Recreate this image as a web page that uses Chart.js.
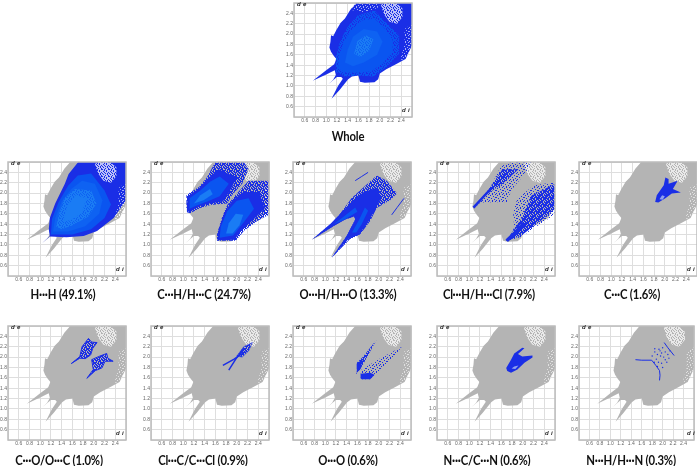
<!DOCTYPE html>
<html>
<head>
<title>Fingerprint plots</title>
<script src="https://cdn.jsdelivr.net/npm/chart.js"></script>
<style>
  html, body { margin: 0; background: #fff; overflow: hidden; }
  body { position: relative; width: 697px; height: 466px; }
  canvas { position: absolute; filter: blur(.45px); }
  .cap { position: absolute; width: 160px; text-align: center; font: bold 13px Lato, sans-serif; letter-spacing: -.2px; color: #111; white-space: nowrap; transform: scaleX(.87); }
  .ax { position: absolute; font: italic bold 6px "Liberation Sans", sans-serif; color: #222; white-space: nowrap; letter-spacing: .3px; }
</style>
</head>
<body>
<script>
// all outlines are [d_i, d_e] pairs
const tickLabels = ['0.6','0.8','1.0','1.2','1.4','1.6','1.8','2.0','2.2','2.4'];
const captions = ['Whole','H···H (49.1%)','C···H/H···C (24.7%)','O···H/H···O (13.3%)','Cl···H/H···Cl (7.9%)','C···C (1.6%)',
  'C···O/O···C (1.0%)','Cl···C/C···Cl (0.9%)','O···O (0.6%)','N···C/C···N (0.6%)','N···H/H···N (0.3%)'];

const fullShape = [[0.75,1.10],[1.0,1.30],[1.15,1.42],[1.19,1.52],[1.14,1.58],[1.09,1.66],[1.06,1.74],[1.08,1.85],[1.09,1.98],[1.13,1.96],[1.19,2.08],[1.27,2.22],[1.35,2.30],[1.45,2.47],[1.56,2.60],[2.60,2.60],[2.60,1.78],[2.48,1.52],[2.30,1.42],[2.12,1.32],[2.0,1.24],[1.97,1.13],[1.90,1.07],[1.72,1.06],[1.63,1.08],[1.60,1.20],[1.48,1.18],[1.41,1.13],[1.25,0.92],[1.10,0.75],[1.22,1.0],[1.31,1.14],[1.28,1.17],[1.20,1.17],[1.04,1.03],[1.13,1.12],[1.18,1.21],[1.16,1.30],[1.0,1.22],[0.75,1.10]];
const topHole = [[2.02,2.56],[2.08,2.38],[2.18,2.24],[2.32,2.20],[2.43,2.34],[2.42,2.50],[2.30,2.60],[2.08,2.60]];
const edgeRight = [[2.46,2.10],[2.60,2.20],[2.60,1.78],[2.48,1.52],[2.38,1.50],[2.46,1.80]];
const edgeTop = [[1.45,2.47],[1.56,2.60],[2.02,2.60],[1.95,2.50],[1.70,2.42]];

const wholeHalo = [[1.17,1.28],[1.18,1.56],[1.26,1.86],[1.40,2.14],[1.58,2.36],[1.90,2.46],[2.10,2.24],[2.36,1.98],[2.36,1.62],[2.12,1.36],[1.88,1.18],[1.60,1.20],[1.34,1.18]];
const wholeDense = [[1.22,1.34],[1.24,1.58],[1.33,1.85],[1.47,2.08],[1.66,2.26],[1.90,2.30],[2.08,2.12],[2.24,1.88],[2.24,1.66],[2.06,1.44],[1.84,1.28],[1.58,1.26],[1.36,1.26]];
const wholeCore = [[1.35,1.45],[1.40,1.70],[1.50,1.95],[1.70,2.10],[1.95,2.05],[2.05,1.85],[1.95,1.60],[1.70,1.45],[1.50,1.38]];
const wholeHeart = [[1.52,1.62],[1.58,1.86],[1.74,1.98],[1.88,1.90],[1.80,1.68],[1.64,1.56]];

const hhEdge = [[1.03,1.03],[1.18,1.17],[1.16,1.30],[1.18,1.52],[1.28,1.80],[1.46,2.18],[1.53,2.37],[1.71,2.60],[2.60,2.60],[2.60,1.86],[2.37,1.52],[2.06,1.27],[1.81,1.17],[1.49,1.15],[1.18,1.16],[1.03,1.03]];
const hhDense = [[1.20,1.20],[1.22,1.50],[1.34,1.82],[1.52,2.14],[1.70,2.34],[1.95,2.38],[2.2,2.05],[2.32,1.78],[2.20,1.52],[1.95,1.30],[1.6,1.20]];
const hhMid = [[1.24,1.26],[1.28,1.52],[1.40,1.84],[1.58,2.08],[1.78,2.24],[2.02,2.18],[2.16,1.86],[2.10,1.60],[1.84,1.36],[1.52,1.26]];
const hhCore = [[1.30,1.35],[1.35,1.60],[1.45,1.90],[1.65,2.08],[1.95,2.05],[2.05,1.80],[1.90,1.55],[1.60,1.38],[1.40,1.30]];
const hhHeart = [[1.44,1.46],[1.50,1.74],[1.66,1.96],[1.86,1.90],[1.78,1.62],[1.58,1.48]];

const chUpper = [[1.07,1.71],[1.06,1.96],[1.13,2.01],[1.30,2.12],[1.44,2.30],[1.60,2.60],[2.13,2.60],[2.22,2.46],[2.10,2.18],[1.91,1.96],[1.82,1.80],[1.51,1.77],[1.32,1.71],[1.13,1.61],[1.07,1.63]];
const chLower = [[1.63,1.08],[1.63,1.20],[1.72,1.52],[1.82,1.77],[2.0,1.99],[2.22,2.24],[2.60,2.24],[2.60,1.58],[2.38,1.46],[2.13,1.27],[1.98,1.08]];
const chUpperSolid = [[1.07,1.66],[1.08,1.94],[1.28,2.08],[1.46,2.28],[1.66,2.46],[2.0,2.30],[1.86,2.02],[1.74,1.84],[1.48,1.80],[1.28,1.74],[1.12,1.63]];
const chLowerSolid = [[1.64,1.09],[1.66,1.30],[1.76,1.60],[1.90,1.84],[2.12,2.02],[2.42,2.02],[2.52,1.70],[2.30,1.48],[2.08,1.28],[1.96,1.10]];
const chUpperDense = [[1.12,1.70],[1.12,1.90],[1.32,2.05],[1.50,2.22],[1.68,2.32],[1.85,2.18],[1.68,1.94],[1.45,1.84],[1.25,1.76]];
const chLowerDense = [[1.68,1.14],[1.70,1.35],[1.82,1.65],[2.0,1.85],[2.22,1.90],[2.32,1.70],[2.14,1.45],[1.93,1.18]];
const chUpperCore = [[1.20,1.80],[1.32,1.96],[1.50,2.08],[1.55,1.98],[1.38,1.86]];
const chLowerCore = [[1.80,1.22],[1.85,1.42],[1.98,1.60],[2.12,1.58],[2.05,1.38],[1.92,1.22]];

const ohBody = [[0.75,1.10],[1.09,1.39],[1.24,1.55],[1.49,1.90],[1.68,2.08],[1.96,2.34],[2.15,2.24],[2.34,1.99],[2.21,1.86],[1.96,1.71],[1.84,1.46],[1.65,1.20],[1.46,1.11],[1.12,0.75],[1.40,1.17],[1.56,1.49],[1.54,1.55],[1.37,1.49],[1.15,1.36],[0.75,1.10]];
const ohDense = [[0.75,1.10],[1.10,1.41],[1.30,1.62],[1.52,1.86],[1.72,2.02],[1.95,2.10],[2.05,1.92],[1.92,1.66],[1.78,1.40],[1.62,1.20],[1.44,1.12],[1.12,0.75],[1.40,1.17],[1.56,1.49],[1.54,1.55],[1.37,1.49],[1.15,1.36]];
const ohCoreA = [[1.16,1.40],[1.36,1.56],[1.56,1.72],[1.60,1.64],[1.38,1.50]];
const ohCoreB = [[1.50,1.24],[1.64,1.50],[1.74,1.72],[1.80,1.66],[1.68,1.40],[1.58,1.24]];
const ohStreakA = [[1.56,2.24],[1.68,2.32],[1.80,2.40]];
const ohStreakB = [[2.24,1.58],[2.34,1.72],[2.47,1.90]];

const clhUpper = [[1.06,1.68],[1.40,2.12],[1.59,2.52],[1.78,2.60],[2.15,2.60],[2.06,2.40],[1.78,2.05],[1.71,1.83],[1.21,1.82],[1.06,1.68]];
const clhLower = [[1.68,1.07],[1.84,1.33],[1.82,1.64],[1.90,1.90],[2.21,2.15],[2.60,2.21],[2.60,1.58],[2.34,1.42],[1.96,1.15],[1.68,1.07]];
const clhUpperDense = [[1.06,1.68],[1.40,2.12],[1.62,2.46],[1.92,2.46],[1.60,2.16],[1.36,2.00],[1.18,1.82]];
const clhLowerDense = [[1.68,1.07],[1.86,1.33],[2.0,1.55],[2.16,1.95],[2.60,2.18],[2.60,1.70],[2.32,1.45],[1.96,1.17]];
const clhStrip = [[1.08,1.72],[1.24,1.90],[1.42,2.10]];
const clhTip = [[1.70,1.08],[1.86,1.24],[2.02,1.42]];

const ccShape = [[1.82,1.83],[1.85,1.96],[1.98,2.15],[2.01,2.30],[2.07,2.27],[2.07,2.18],[2.24,2.24],[2.15,2.08],[2.30,2.01],[2.13,1.99],[2.01,1.90],[1.88,1.82],[1.82,1.83]];
const ccHole = [[1.90,1.88],[1.95,1.96],[2.0,1.94],[1.96,1.87]];

const coLobeA = [[1.58,1.875],[1.74,2.01],[1.78,2.20],[1.90,2.36],[1.96,2.29],[2.06,2.28],[1.98,2.17],[1.94,2.04],[1.84,1.97],[1.74,1.98],[1.58,1.875]];
const coLobeB = [[1.87,1.59],[1.99,1.76],[1.96,1.95],[2.09,2.01],[2.24,2.07],[2.26,1.98],[2.36,1.92],[2.21,1.92],[2.15,1.79],[2.03,1.74],[1.87,1.59]];

const clcLineA = [[1.74,1.84],[1.95,1.96],[2.16,2.11]];
const clcLineB = [[1.85,1.75],[1.98,1.96],[2.13,2.17]];
const clcTop = [[2.0,2.02],[2.13,2.20],[2.29,2.28],[2.22,2.12],[2.10,2.00],[2.0,2.02]];

const ooLobeA = [[1.575,1.68],[1.59,1.89],[1.71,2.01],[1.96,2.34],[1.74,1.92],[1.65,1.76],[1.575,1.68]];
const ooLobeB = [[1.65,1.61],[1.68,1.76],[2.03,1.98],[2.43,2.20],[2.21,1.92],[1.93,1.67],[1.84,1.57],[1.68,1.57],[1.65,1.61]];
const ooDenseA = [[1.575,1.68],[1.59,1.88],[1.70,1.96],[1.66,1.78]];
const ooDenseB = [[1.65,1.60],[1.66,1.68],[1.84,1.70],[1.92,1.66],[1.84,1.57],[1.68,1.57]];

const ncShape = [[1.69,1.79],[1.78,1.95],[1.84,2.07],[1.99,2.18],[2.03,2.17],[1.91,2.06],[1.99,2.01],[2.18,2.03],[2.18,1.99],[2.03,1.89],[1.90,1.76],[1.78,1.70],[1.71,1.73],[1.69,1.79]];
const ncHole = [[1.79,1.78],[1.84,1.82],[1.92,1.84],[1.86,1.77]];

const nhLineA = [[1.48,1.95],[1.60,1.94],[1.79,1.94],[1.87,1.84],[1.94,1.74],[1.95,1.65],[1.94,1.55]];
const nhLineB = [[2.03,2.28],[2.10,2.18],[2.22,2.03]];
const nhDots = [[1.80,2.02],[1.85,2.10],[1.90,2.05],[1.88,1.96],[1.95,2.12],[2.0,2.18],[2.05,2.10],[2.02,2.0],[1.96,2.02],[1.92,1.90],[1.98,1.88],[2.05,1.95],[2.10,2.05],[2.0,1.80],[1.85,2.16],[1.93,2.15],[2.12,1.98],[2.08,1.90],[1.90,1.82],[1.98,2.08],[1.84,1.90],[2.14,2.12]];

const BLUE = '#1a2ee6', MID = '#0a55f0', SKY = '#0e62f2', CORE = '#1a7cf4', GRAY = '#b4b4b4';

// speckle tiles for the sparse parts of the plots
const tileSparse = ['#..#...', '...#..#', '.#.....', '....#..', '#.....#', '..#....', '.....#.'];
const tileDense = ['##.###.', '.##.#.#', '#.###.#', '###.##.', '.#.###.', '##.#.##', '#.##.##'];
function speckle(tile, color) {
  const c = document.createElement('canvas');
  c.width = 7; c.height = 7;
  const g = c.getContext('2d');
  g.fillStyle = color;
  tile.forEach((row, y) => [...row].forEach((ch, x) => { if (ch === '#') g.fillRect(x, y, 1, 1); }));
  return g.createPattern(c, 'repeat');
}
const blueSparse = speckle(tileSparse, BLUE), blueDense = speckle(tileDense, BLUE);
const midDense = speckle(tileDense, MID), coreDense = speckle(tileDense, CORE);
const whiteDense = speckle(tileDense, 'rgba(255,255,255,.7)'), whiteSparse = speckle(tileSparse, 'rgba(255,255,255,.6)');

const base = [[fullShape, GRAY], [topHole, whiteDense], [edgeRight, whiteSparse]];
const panels = [
  { left: 294, top: 0, capX: 348, capY: 128, layers: [[fullShape, BLUE], [wholeHalo, midDense], [wholeDense, MID], [wholeCore, SKY], [wholeHeart, coreDense], [topHole, whiteDense], [edgeRight, whiteSparse], [edgeTop, whiteSparse]] },
  { left: 8, top: 159, capX: 63, capY: 286, layers: [...base, [hhEdge, BLUE], [hhDense, MID], [hhMid, SKY], [hhCore, coreDense], [hhHeart, CORE], [topHole, whiteDense], [edgeRight, whiteSparse]] },
  { left: 151, top: 159, capX: 204, capY: 286, layers: [...base, [chUpper, blueDense], [chLower, blueDense], [chUpperSolid, BLUE], [chLowerSolid, BLUE], [chUpperDense, MID], [chLowerDense, MID], [chUpperCore, CORE], [chLowerCore, CORE]] },
  { left: 293, top: 159, capX: 348, capY: 286, layers: [...base, [ohBody, blueDense], [ohDense, BLUE], [ohCoreA, MID], [ohCoreB, MID], [ohStreakA, null, BLUE, 1], [ohStreakB, null, BLUE, 1]] },
  { left: 437, top: 159, capX: 489, capY: 286, layers: [...base, [clhUpper, blueSparse], [clhLower, blueSparse], [clhUpperDense, blueDense], [clhLowerDense, blueDense], [clhStrip, null, BLUE, 2.5], [clhTip, null, BLUE, 3.5]] },
  { left: 579, top: 159, capX: 632, capY: 286, layers: [...base, [ccShape, BLUE], [ccHole, '#8fa0ee']] },
  { left: 8, top: 323, capX: 59, capY: 452, layers: [...base, [coLobeA, blueDense, BLUE, 1], [coLobeB, blueDense, BLUE, 1]] },
  { left: 151, top: 323, capX: 203, capY: 452, layers: [...base, [clcLineA, null, BLUE, 1.5], [clcLineB, null, BLUE, 1.5], [clcTop, blueDense, BLUE, 0.6]] },
  { left: 293, top: 323, capX: 348, capY: 452, layers: [...base, [ooLobeA, blueDense], [ooLobeB, blueSparse], [ooDenseA, BLUE], [ooDenseB, BLUE]] },
  { left: 437, top: 323, capX: 487, capY: 452, layers: [...base, [ncShape, BLUE], [ncHole, '#8fa0ee']] },
  { left: 579, top: 323, capX: 631, capY: 452, layers: [...base, [nhDots, null, null, 0], [nhLineA, null, BLUE, 1], [nhLineB, null, BLUE, 1]] }
];

const frame = {
  id: 'frame',
  afterDraw(chart) {
    const a = chart.chartArea, ctx = chart.ctx;
    ctx.save();
    ctx.strokeStyle = '#bcbcbc';
    ctx.lineWidth = 1.5;
    ctx.strokeRect(a.left, a.top, a.width, a.height);
    ctx.restore();
  }
};

function toDataset(layer, i, all) {
  const [pts, fillColor, lineColor, lineWidth] = layer;
  const dots = lineWidth === 0;
  return {
    type: 'line',
    data: pts.map(p => ({ x: p[0], y: p[1] })),
    order: all.length - i,
    fill: fillColor ? 'shape' : false,
    backgroundColor: fillColor || BLUE,
    borderColor: lineColor || 'transparent',
    borderWidth: lineWidth || 0,
    showLine: !dots,
    tension: 0,
    pointRadius: dots ? 0.7 : 0,
    pointBackgroundColor: BLUE,
    pointBorderWidth: 0
  };
}

function axis(afterFit) {
  return {
    type: 'linear', min: 0.4, max: 2.6, afterFit,
    grid: { color: '#dedede', lineWidth: 1, drawTicks: false },
    border: { display: false },
    ticks: {
      stepSize: 0.2, autoSkip: false, maxRotation: 0, padding: 1,
      color: '#666', font: { size: 5, family: 'Liberation Sans' },
      callback: v => tickLabels.includes(v.toFixed(1)) ? v.toFixed(1) : ''
    }
  };
}

panels.forEach((p, n) => {
  const cv = document.createElement('canvas');
  cv.width = 137; cv.height = 130;
  cv.style.left = (p.left - 18) + 'px';
  cv.style.top = (p.top - 1) + 'px';
  document.body.appendChild(cv);
  new Chart(cv, {
    type: 'line',
    data: { datasets: p.layers.map(toDataset) },
    options: {
      responsive: false,
      animation: false,
      layout: { padding: { top: 1, right: 1, left: 0, bottom: 0 } },
      plugins: { legend: { display: false }, tooltip: { enabled: false } },
      scales: {
        x: axis(s => { s.height = 12; }),
        y: axis(s => { s.width = 18; })
      }
    },
    plugins: [frame]
  });

  const de = document.createElement('div');
  de.className = 'ax'; de.textContent = 'd e';
  de.style.left = (p.left + 3) + 'px'; de.style.top = (p.top + 1) + 'px';
  document.body.appendChild(de);

  const di = document.createElement('div');
  di.className = 'ax'; di.textContent = 'd i';
  di.style.left = (p.left + 108) + 'px'; di.style.top = (p.top + 107) + 'px';
  document.body.appendChild(di);

  const cap = document.createElement('div');
  cap.className = 'cap'; cap.textContent = captions[n];
  cap.style.left = (p.capX - 80) + 'px';
  cap.style.top = p.capY + 'px';
  document.body.appendChild(cap);
});
</script>
</body>
</html>
